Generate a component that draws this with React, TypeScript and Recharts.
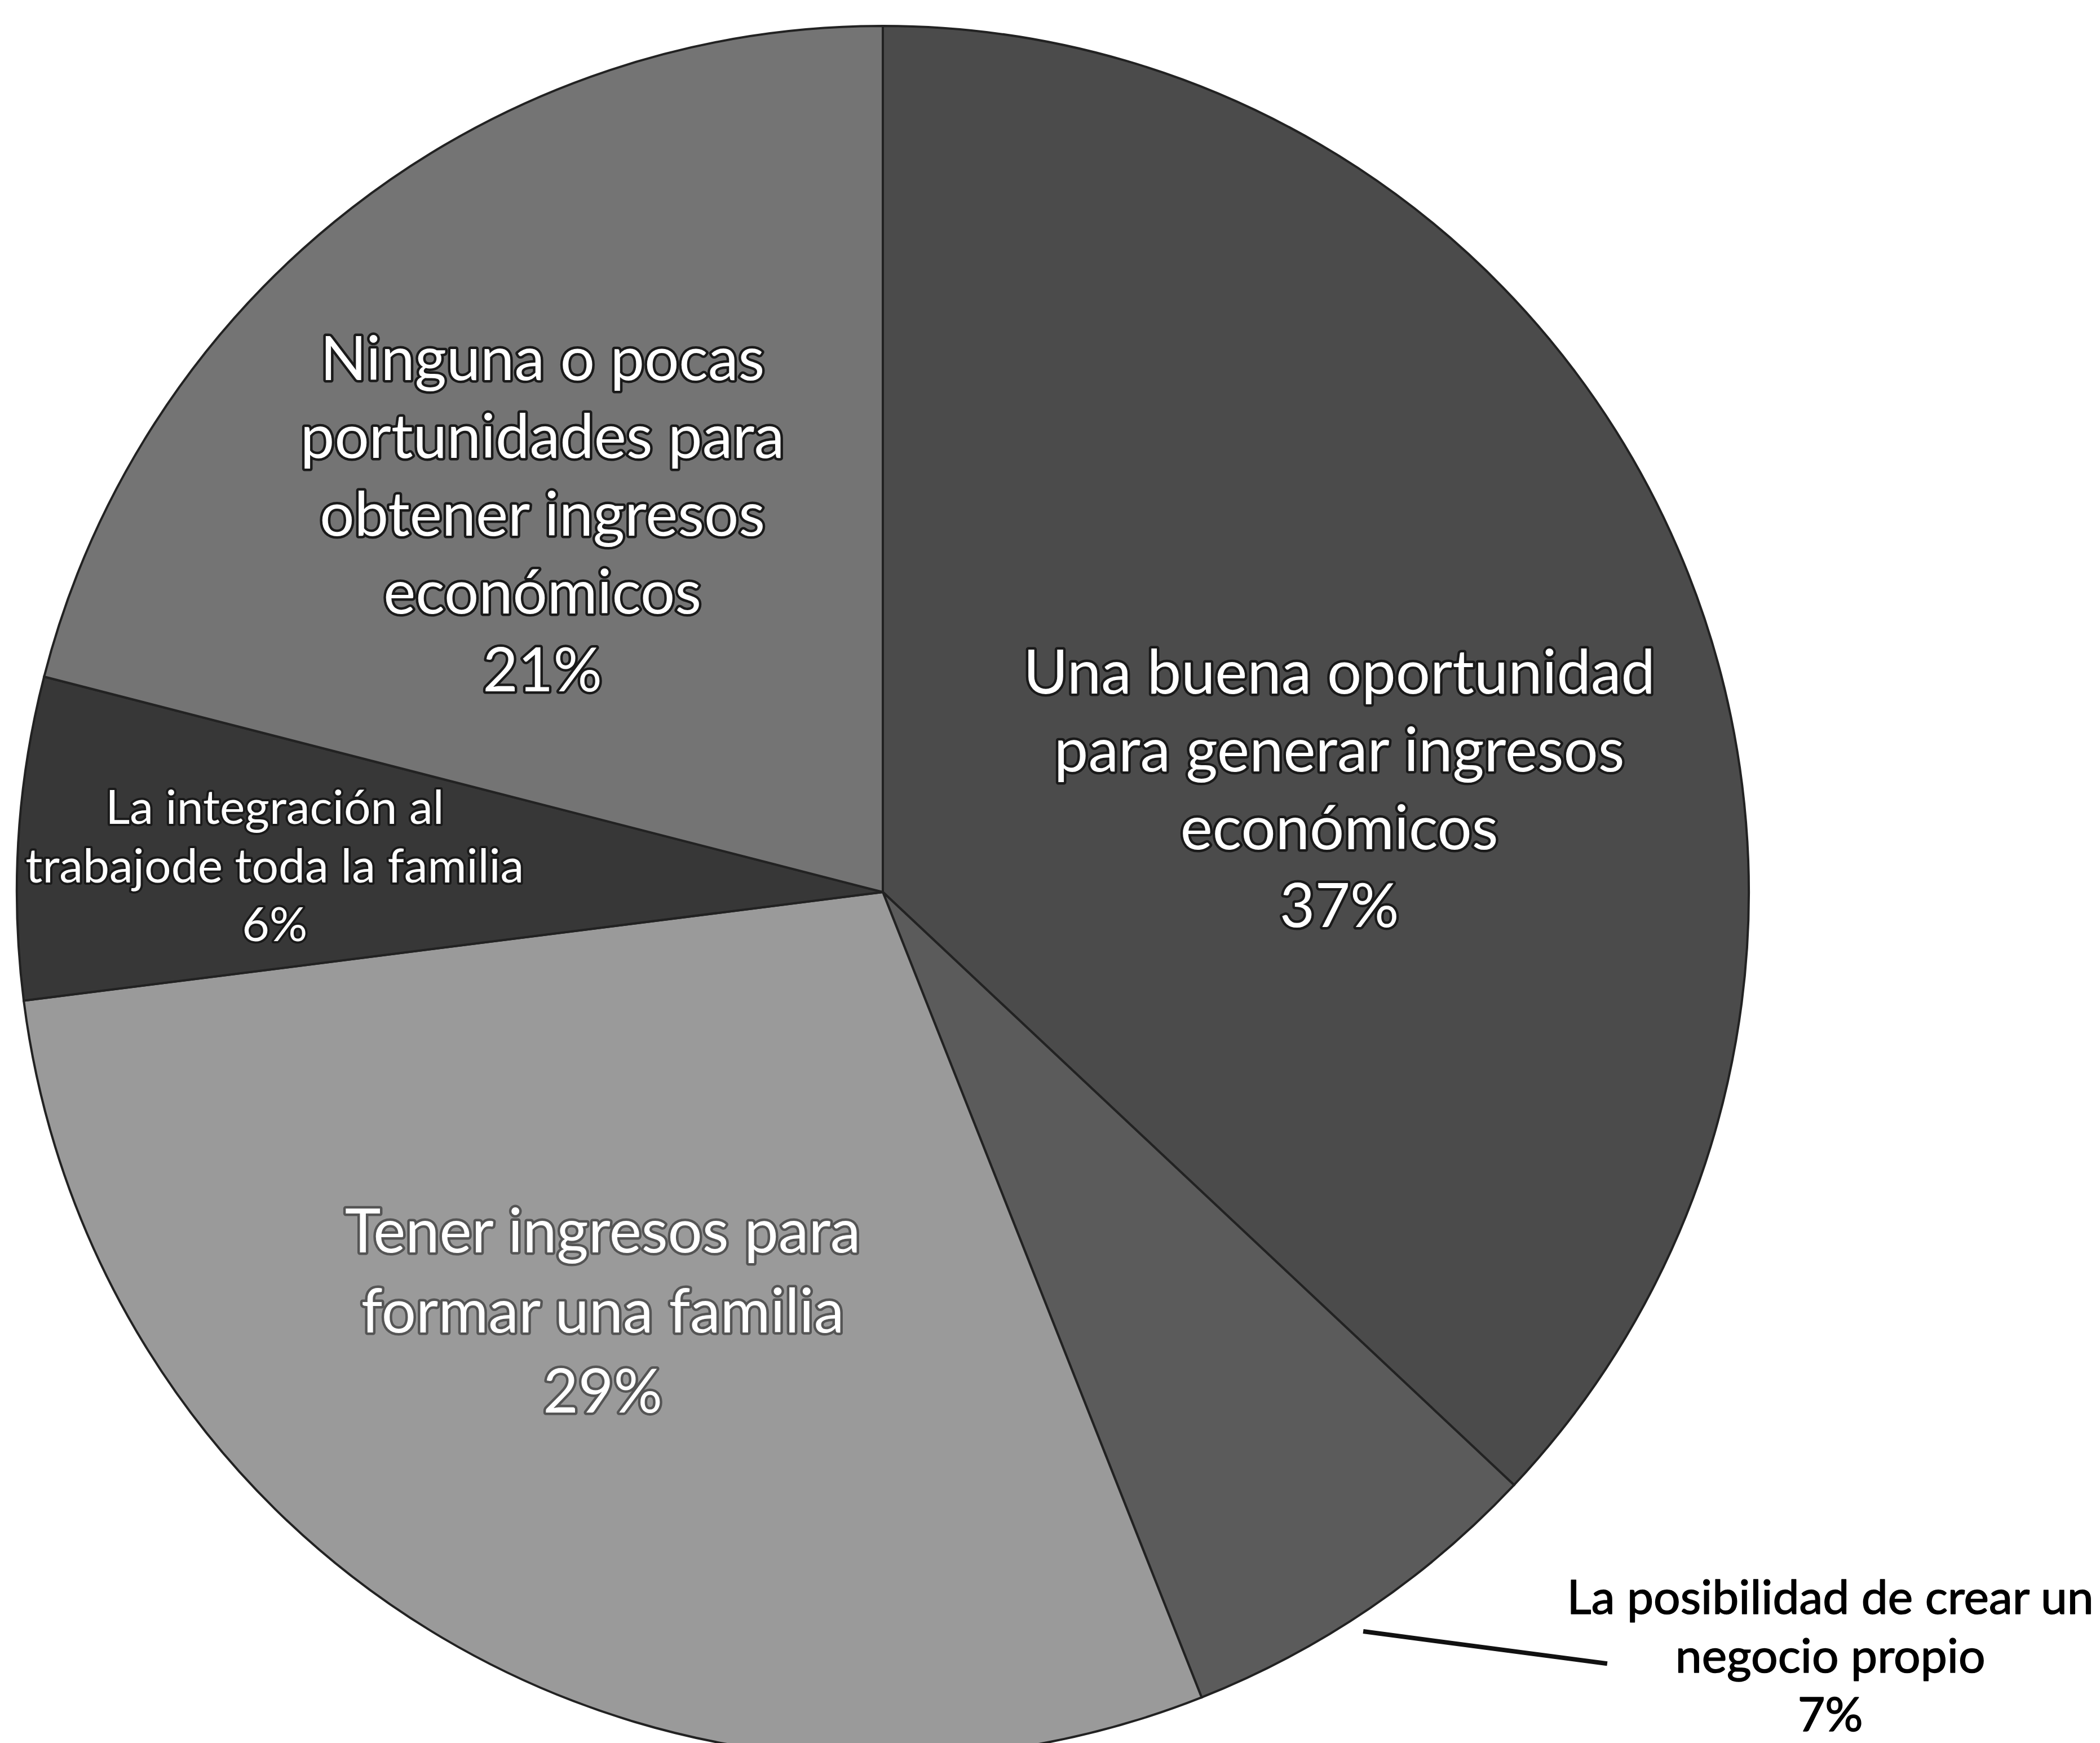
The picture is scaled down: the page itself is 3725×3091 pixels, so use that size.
import React from 'react';
import { PieChart, Pie, Cell } from 'recharts';

// ---- data ----
const categories: string[] = [
  'Una buena oportunidad\npara generar ingresos\neconómicos',
  'La posibilidad de crear un\nnegocio propio',
  'Tener ingresos para\nformar una familia',
  'La integración al\ntrabajode toda la familia',
  'Ninguna o pocas\nportunidades para\nobtener ingresos\neconómicos',
];
const values: number[] = [37, 7, 29, 6, 21];
const percentLabels: string[] = ['37%', '7%', '29%', '6%', '21%'];

// ---- styles / layout ----
const sliceColors = ['#4b4b4b', '#5b5b5b', '#9a9a9a', '#373737', '#747474'];
const W = 3725;
const H = 3091;
const CX = 1566;
const CY = 1582;
const R = 1536;
const FONT = 'Lato, "Open Sans", sans-serif';

type Layout = {
  dist: number;
  shift: number;
  size: number;
  lh: number;
  fill: string;
  stroke: string;
  sw: number;
  line?: [number, number, number, number];
};

const labelLayout: Layout[] = [
  { dist: 0.541, shift: -10.4, size: 108, lh: 138, fill: '#ffffff', stroke: '#1a1a1a', sw: 9 },
  { dist: 1.404, shift: 17.0, size: 84, lh: 104, fill: '#000000', stroke: '#000000', sw: 1.5, line: [1.018, -1.18, 1.222, 9.0] },
  { dist: 0.58, shift: -3.3, size: 108, lh: 142, fill: '#ffffff', stroke: '#555555', sw: 9 },
  { dist: 0.703, shift: 0.95, size: 84, lh: 104, fill: '#ffffff', stroke: '#1a1a1a', sw: 8 },
  { dist: 0.589, shift: 4.07, size: 108, lh: 138, fill: '#ffffff', stroke: '#1a1a1a', sw: 9 },
];

const data = categories.map((name, i) => ({ name, value: values[i], pct: percentLabels[i] }));

const RAD = Math.PI / 180;

const renderLabel = (props: any) => {
  const { cx, cy, midAngle, outerRadius, index } = props;
  const L = labelLayout[index];
  const a = (midAngle + L.shift) * RAD;
  const x = cx + outerRadius * L.dist * Math.cos(a);
  const y = cy - outerRadius * L.dist * Math.sin(a);
  const lines = [...categories[index].split('\n'), percentLabels[index]];
  const n = lines.length;
  let linePath = null;
  if (L.line) {
    const [d1, s1, d2, s2] = L.line;
    const a1 = (midAngle + s1) * RAD;
    const a2 = (midAngle + s2) * RAD;
    const x1 = cx + outerRadius * d1 * Math.cos(a1);
    const y1 = cy - outerRadius * d1 * Math.sin(a1);
    const x2 = cx + outerRadius * d2 * Math.cos(a2);
    const y2 = cy - outerRadius * d2 * Math.sin(a2);
    linePath = <line x1={x1} y1={y1} x2={x2} y2={y2} stroke="#111" strokeWidth={8} />;
  }
  return (
    <g key={`lbl-${index}`}>
      {linePath}
      <text
        x={x}
        y={y}
        textAnchor="middle"
        fontFamily={FONT}
        fontSize={L.size}
        fill={L.fill}
        stroke={L.stroke}
        strokeWidth={L.sw}
        strokeLinejoin="round"
        paintOrder="stroke"
      >
        {lines.map((t, i) => (
          <tspan key={i} x={x} y={y - ((n - 1) * L.lh) / 2 + i * L.lh} dominantBaseline="central">
            {t}
          </tspan>
        ))}
      </text>
    </g>
  );
};

export default function App() {
  return (
    <div style={{ position: 'absolute', left: 0, top: 0, width: W, height: H, background: '#ffffff' }}>
      <PieChart width={W} height={H} margin={{ top: 0, right: 0, bottom: 0, left: 0 }}>
        <Pie
          data={data}
          dataKey="value"
          nameKey="name"
          cx={CX}
          cy={CY}
          outerRadius={R}
          startAngle={90}
          endAngle={-270}
          stroke="#222222"
          strokeWidth={4}
          label={renderLabel}
          labelLine={false}
          isAnimationActive={false}
        >
          {data.map((d, i) => (
            <Cell key={d.name} fill={sliceColors[i]} />
          ))}
        </Pie>
      </PieChart>
    </div>
  );
}
